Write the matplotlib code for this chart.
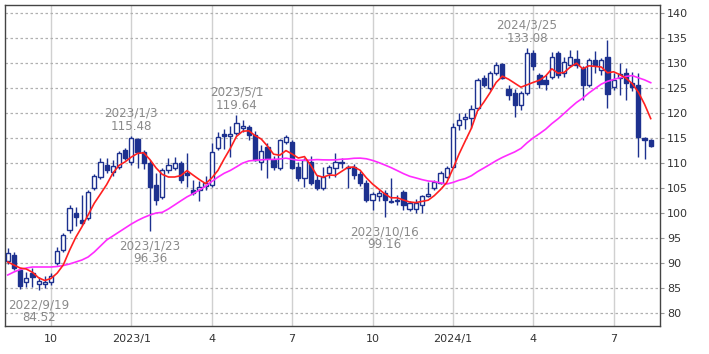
import matplotlib
matplotlib.use('Agg')
import matplotlib.pyplot as plt
import matplotlib.dates as mdates
import numpy as np
import pandas as pd

# ---- data (weekly candles) ----
first_week = '2022-08-15'
opens = [90.4, 91.6, 88.6, 86.3, 88.0, 85.9, 85.8, 86.2, 90.0, 92.6,
         96.6, 100.0, 98.6, 99.0, 105.0, 107.2, 109.6, 108.2, 109.2, 112.6,
         110.2, 114.8, 112.2, 110.0, 105.6, 103.2, 108.6, 109.0, 110.0, 108.0,
         104.6, 104.6, 105.4, 105.6, 113.0, 115.8, 115.4, 116.0, 117.0, 117.2,
         115.6, 110.2, 113.2, 110.6, 109.0, 114.2, 114.2, 109.2, 107.0, 110.2,
         106.6, 105.0, 108.0, 109.0, 110.2, 109.2, 109.2, 107.8, 106.0, 102.6,
         103.4, 104.0, 102.4, 102.4, 104.2, 100.8, 100.8, 101.6, 103.4, 105.0,
         106.0, 107.2, 109.2, 117.6, 118.8, 119.0, 121.0, 127.0, 125.0, 128.0,
         129.8, 124.8, 124.0, 121.6, 124.0, 132.0, 127.6, 126.6, 127.2, 132.0,
         128.0, 129.6, 130.8, 129.0, 125.6, 130.6, 128.6, 131.2, 125.2, 127.0,
         128.0, 126.0, 125.6, 115.0, 114.6]
highs = [93.0, 92.2, 89.0, 88.3, 89.0, 87.2, 87.5, 88.0, 93.2, 96.0,
         101.6, 101.3, 103.6, 104.6, 107.8, 111.0, 111.0, 110.6, 112.4, 113.0,
         115.48, 115.0, 112.6, 110.6, 108.0, 109.0, 111.0, 111.2, 110.4, 112.0,
         106.6, 106.4, 107.4, 114.0, 116.2, 116.8, 117.4, 119.64, 118.6, 117.6,
         116.4, 113.6, 114.0, 111.4, 114.8, 115.6, 114.6, 110.2, 111.0, 111.4,
         107.6, 109.2, 109.6, 112.0, 111.0, 109.6, 109.8, 108.4, 106.6, 104.2,
         104.6, 104.6, 107.0, 103.6, 104.6, 102.4, 102.8, 103.6, 106.2, 106.6,
         108.4, 109.4, 118.0, 120.0, 120.0, 121.6, 127.0, 127.6, 128.4, 130.2,
         130.0, 125.6, 124.8, 124.4, 133.08, 132.6, 128.0, 127.6, 132.2, 132.4,
         131.2, 132.6, 132.6, 129.4, 131.0, 132.4, 131.0, 134.6, 128.0, 130.0,
         129.0, 128.2, 128.0, 115.2, 114.8]
lows = [89.8, 88.6, 84.9, 85.2, 85.3, 84.52, 85.0, 85.6, 89.6, 92.2,
        96.0, 97.5, 97.6, 98.6, 104.6, 106.8, 108.0, 107.4, 108.8, 110.6,
        109.6, 109.0, 108.8, 96.36, 101.6, 102.8, 108.0, 108.6, 106.0, 105.2,
        103.6, 102.4, 104.6, 105.2, 112.6, 112.8, 111.2, 115.6, 116.2, 114.6,
        110.4, 108.6, 107.0, 108.6, 108.6, 113.8, 108.8, 106.4, 105.2, 105.6,
        104.6, 104.6, 107.0, 107.2, 109.0, 105.0, 106.8, 105.4, 102.2, 100.6,
        102.4, 99.16, 102.0, 101.6, 100.6, 100.4, 100.0, 100.0, 103.2, 104.6,
        105.8, 107.0, 109.0, 116.6, 116.8, 117.0, 120.6, 125.2, 124.6, 127.6,
        126.8, 122.6, 119.2, 120.6, 123.6, 128.6, 125.0, 124.6, 126.8, 127.0,
        127.2, 129.2, 129.0, 122.6, 125.2, 128.0, 127.6, 121.0, 124.6, 123.6,
        122.6, 124.4, 111.2, 110.8, 113.2]
closes = [92.0, 89.0, 85.4, 87.0, 87.3, 86.5, 86.3, 87.4, 92.4, 95.6,
          101.0, 99.2, 98.0, 104.2, 107.4, 110.2, 108.6, 109.4, 112.0, 111.0,
          115.0, 112.2, 110.0, 105.2, 102.6, 108.6, 109.6, 110.0, 106.6, 107.6,
          104.0, 105.2, 106.0, 112.2, 115.2, 115.4, 115.8, 118.0, 117.4, 115.6,
          110.6, 112.4, 111.0, 109.2, 114.6, 115.2, 109.0, 107.0, 110.6, 106.0,
          105.0, 107.2, 109.2, 110.2, 110.0, 109.0, 107.6, 106.0, 102.6, 103.8,
          104.0, 102.6, 102.2, 102.6, 101.6, 102.0, 102.0, 103.4, 103.8, 106.2,
          108.0, 109.0, 117.2, 118.6, 119.2, 120.8, 126.6, 125.6, 128.0, 129.6,
          127.0, 123.6, 121.6, 124.0, 132.0, 129.4, 125.8, 125.8, 131.2, 127.6,
          130.2, 131.2, 129.6, 125.6, 130.6, 129.6, 130.6, 123.8, 126.6, 127.8,
          126.0, 125.2, 115.2, 114.6, 113.4]

# moving-average values at the left edge (weeks before the window)
ma_short_head = [90.2, 89.6, 89.0, 88.8]
ma_long_head = [87.6, 88.2, 88.7, 89.0, 89.2, 89.2, 89.2, 89.2, 89.3, 89.5,
                89.8, 90.2, 90.6, 91.2, 92.2, 93.4, 94.6, 95.4, 96.2, 97.0,
                97.8, 98.5, 99.1, 99.6, 100.0]
short_window = 5
long_window = 26

tick_dates = ['2022-10-03', '2023-01-02', '2023-04-03', '2023-07-03',
              '2023-10-02', '2024-01-01', '2024-04-01', '2024-07-01']
tick_labels = ['10', '2023/1', '4', '7', '10', '2024/1', '4', '7']
y_ticks = [80, 85, 90, 95, 100, 105, 110, 115, 120, 125, 130, 135, 140]

notes_high = [('2023-01-02', '2023/1/3', 115.48), ('2023-05-01', '2023/5/1', 119.64),
              ('2024-03-25', '2024/3/25', 133.08)]
notes_low = [('2022-09-19', '2022/9/19', 84.52), ('2023-01-23', '2023/1/23', 96.36),
             ('2023-10-16', '2023/10/16', 99.16)]

# ---- build ----
dates = pd.date_range(first_week, periods=len(closes), freq='W-MON')
o = np.array(opens); h = np.array(highs); l = np.array(lows); c = np.array(closes)
cs = pd.Series(c)
ma_s = cs.rolling(short_window).mean().to_numpy()
ma_s[:len(ma_short_head)] = ma_short_head
ma_l = cs.rolling(long_window).mean().to_numpy()
ma_l[:len(ma_long_head)] = ma_long_head

navy = '#1d318f'
fig = plt.figure(figsize=(7.09, 3.54), dpi=100)
ax = fig.add_axes([5/709, 1-326/354, 655/709, 321/354])

x = mdates.date2num(dates)
ax.vlines(x, l, h, color=navy, lw=1.0, zorder=3)
up = c >= o
body_lo = np.minimum(o, c)
body_h = np.maximum(np.abs(c - o), 0.25)
ax.bar(x[up], body_h[up], bottom=body_lo[up], width=4.8, color='white',
       edgecolor=navy, linewidth=1.0, zorder=4)
ax.bar(x[~up], body_h[~up], bottom=body_lo[~up], width=4.8, color=navy,
       edgecolor=navy, linewidth=1.0, zorder=4)

ax.plot(x, ma_l, color='#ff2cff', lw=1.2, zorder=5)
ax.plot(x, ma_s, color='#ff2020', lw=1.2, zorder=6)

ax.set_xlim(x[0] - 0.44*7, x[-1] + 1.5*7)
ax.set_ylim(77.4, 141.6)
ax.set_yticks(y_ticks)
ax.yaxis.tick_right()
ax.tick_params(axis='y', labelsize=8, colors='#999999', labelcolor='#333333',
               length=3, width=0.8, pad=2)
ax.set_xticks(mdates.date2num(pd.to_datetime(tick_dates)))
ax.set_xticklabels(tick_labels)
ax.tick_params(axis='x', labelsize=8, labelcolor='#333333', length=0, pad=6)

ax.grid(axis='y', color='#b0b0b0', linestyle=(0, (2, 2)), lw=0.9)
ax.grid(axis='x', color='#d0d0d0', linestyle='-', lw=1.0)
ax.set_axisbelow(True)
for s in ax.spines.values():
    s.set_color('#444444')
    s.set_linewidth(1.0)

for d, lab, v in notes_high:
    ax.annotate(f'{lab}\n{v:.2f}', xy=(mdates.date2num(pd.Timestamp(d)), v),
                xytext=(0, 3), textcoords='offset pixels', ha='center', va='bottom',
                fontsize=8.6, color='#8a8a8a', linespacing=1.0, zorder=7)
for d, lab, v in notes_low:
    ax.annotate(f'{lab}\n{v:.2f}', xy=(mdates.date2num(pd.Timestamp(d)), v),
                xytext=(0, -8), textcoords='offset pixels', ha='center', va='top',
                fontsize=8.6, color='#8a8a8a', linespacing=1.0, zorder=7)

fig.savefig('out.png', dpi=100)
